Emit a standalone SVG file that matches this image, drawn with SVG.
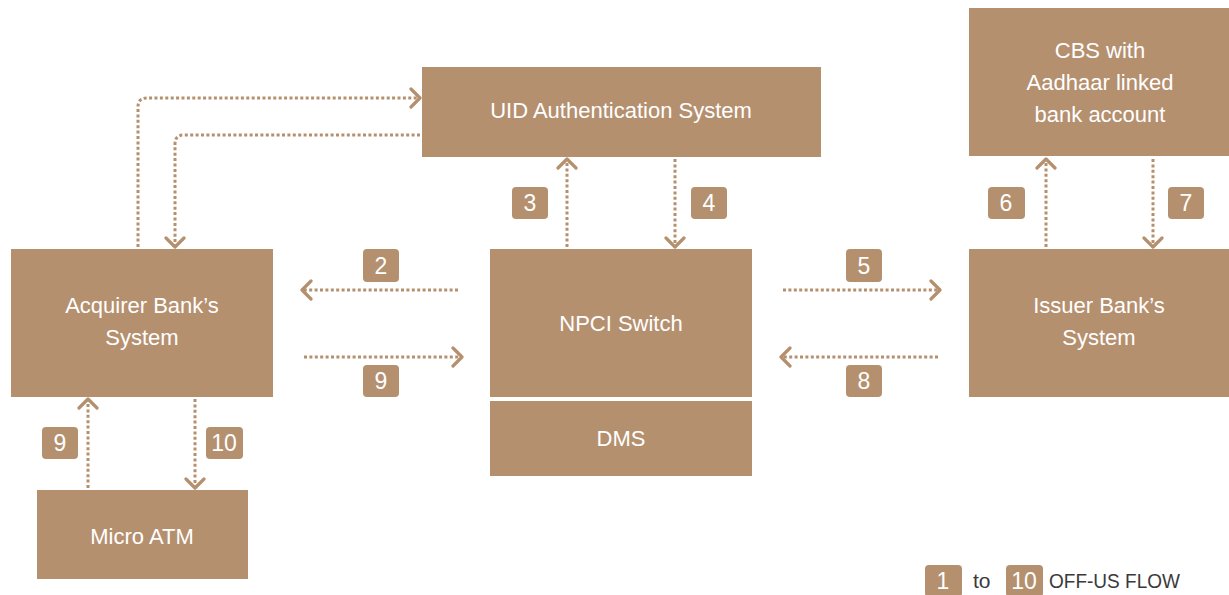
<svg xmlns="http://www.w3.org/2000/svg" width="1229" height="595" viewBox="0 0 1229 595">
<style>
.box{fill:#b5906f}
.t{font-family:"Liberation Sans",Arial,sans-serif;font-size:22px;fill:#ffffff;text-anchor:middle}
.n{font-family:"Liberation Sans",Arial,sans-serif;font-size:23px;fill:#ffffff;text-anchor:middle}
.lg{font-family:"Liberation Sans",Arial,sans-serif;font-size:21px;fill:#3a3a3a}
.c{fill:none;stroke:#b5906f;stroke-width:3;stroke-dasharray:3 2.4;marker-end:url(#ah)}
</style>
<defs>
<marker id="ah" viewBox="-12 -11 14 22" markerWidth="14" markerHeight="22" refX="0" refY="0" orient="auto" markerUnits="userSpaceOnUse">
<path d="M-9,-9 L0,0 L-9,9" fill="none" stroke="#b5906f" stroke-width="3.2" stroke-linecap="round" stroke-linejoin="round"/>
</marker>
</defs>
<rect width="1229" height="595" fill="#ffffff"/>
<g id="uid"><rect class="box" x="422" y="67" width="399" height="90"/><text class="t" x="621" y="118">UID Authentication System</text></g>
<g id="cbs"><rect class="box" x="969" y="8" width="260" height="148"/><text class="t" x="1100" y="58">CBS with</text><text class="t" x="1100" y="90">Aadhaar linked</text><text class="t" x="1100" y="122">bank account</text></g>
<g id="acquirer"><rect class="box" x="11" y="249" width="262" height="148"/><text class="t" x="142" y="313">Acquirer Bank’s</text><text class="t" x="142" y="345">System</text></g>
<g id="npci"><rect class="box" x="490" y="249" width="262" height="148"/><text class="t" x="621" y="331">NPCI Switch</text></g>
<g id="dms"><rect class="box" x="490" y="401" width="262" height="75"/><text class="t" x="621" y="446">DMS</text></g>
<g id="issuer"><rect class="box" x="969" y="249" width="260" height="148"/><text class="t" x="1099" y="313">Issuer Bank’s</text><text class="t" x="1099" y="345">System</text></g>
<g id="microatm"><rect class="box" x="37" y="490" width="211" height="89"/><text class="t" x="142" y="544">Micro ATM</text></g>
<g id="connectors">
<path class="c" d="M138,247 V107 Q138,98 147,98 H420"/>
<path class="c" d="M420,135 H184 Q175,135 175,144 V247"/>
<path class="c" d="M458,290 H302"/>
<path class="c" d="M304,357 H462"/>
<path class="c" d="M567,247 V159"/>
<path class="c" d="M675,159 V247"/>
<path class="c" d="M783,290 H940"/>
<path class="c" d="M938,357 H781"/>
<path class="c" d="M1046,247 V159"/>
<path class="c" d="M1153,159 V247"/>
<path class="c" d="M88,488 V399"/>
<path class="c" d="M195,399 V488"/>
</g>
<g id="labels">
<rect class="box" x="363" y="249" width="36" height="33" rx="4"/><text class="n" x="381" y="274">2</text>
<rect class="box" x="363" y="365" width="36" height="32" rx="4"/><text class="n" x="381" y="389">9</text>
<rect class="box" x="512" y="187" width="36" height="32" rx="4"/><text class="n" x="530" y="211">3</text>
<rect class="box" x="691" y="187" width="36" height="32" rx="4"/><text class="n" x="709" y="211">4</text>
<rect class="box" x="846" y="249" width="36" height="33" rx="4"/><text class="n" x="864" y="274">5</text>
<rect class="box" x="846" y="365" width="36" height="32" rx="4"/><text class="n" x="864" y="389">8</text>
<rect class="box" x="988" y="187" width="37" height="32" rx="4"/><text class="n" x="1006" y="211">6</text>
<rect class="box" x="1168" y="187" width="36" height="32" rx="4"/><text class="n" x="1186" y="211">7</text>
<rect class="box" x="42" y="427" width="36" height="32" rx="4"/><text class="n" x="60" y="451">9</text>
<rect class="box" x="206" y="427" width="37" height="32" rx="4"/><text class="n" x="224" y="451">10</text>
</g>
<g id="legend">
<rect class="box" x="925" y="565" width="37" height="32" rx="4"/><text class="n" x="943" y="589">1</text>
<text class="lg" x="973" y="588">to</text>
<rect class="box" x="1006" y="565" width="37" height="32" rx="4"/><text class="n" x="1024" y="589">10</text>
<text class="lg" x="1049" y="588" textLength="131" lengthAdjust="spacingAndGlyphs">OFF-US FLOW</text>
</g>
</svg>
